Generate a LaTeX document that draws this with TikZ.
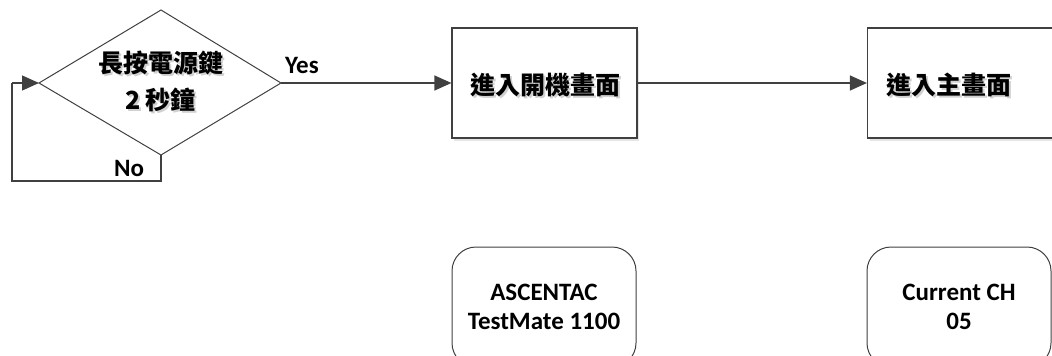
\documentclass[tikz,border=0pt]{standalone}
\usepackage{fontspec}
\setmainfont{Carlito}
\newfontfamily\cjk{Noto Sans CJK TC}
\usetikzlibrary{arrows.meta,shapes.geometric,shadows}
\definecolor{linec}{HTML}{404040}
\tikzset{
  conn/.style={draw=linec,line width=1.3pt,-{Triangle[length=17pt,width=15pt]}},
  plainline/.style={draw=linec,line width=1.3pt},
  boxstyle/.style={draw=linec,line width=1.2pt,fill=white,minimum width=185pt,minimum height=110pt,inner sep=0pt,
     drop shadow={shadow xshift=2pt,shadow yshift=-3pt,fill=black!10,opacity=1}},
  roundstyle/.style={draw=linec,line width=1pt,rounded corners=24pt,fill=white,minimum width=184pt,minimum height=120pt,inner sep=0pt},
  lab/.style={font=\bfseries\fontsize{25}{29}\selectfont,text=black},
  cjklab/.style={font=\cjk\bfseries\fontsize{25}{37}\selectfont,text=black,align=center},
  cjkshadow/.style={font=\cjk\bfseries\fontsize{25}{37}\selectfont,text=black!18,align=center},
}
\begin{document}
\begin{tikzpicture}[x=1pt,y=-1pt]
\useasboundingbox (0,0) rectangle (1052,356);
\clip (0,0) rectangle (1052,356);
% diamond
\coordinate (dl) at (39,83);
\coordinate (dt) at (161,10);
\coordinate (dr) at (281,83);
\coordinate (db) at (161,155);
\draw[draw=linec,line width=1pt,fill=white] (dl) -- (dt) -- (dr) -- (db) -- cycle;
\node[cjkshadow] (dts) at (162.5,83.5) {長按電源鍵\\2 秒鐘};
\node[cjklab] (dtext) at (160.5,81.5) {長按電源鍵\\2 秒鐘};
% boxes
\node[boxstyle] (b1) at (544.5,83) {};
\node[cjkshadow] (b1s) at (547,87) {進入開機畫面};
\node[cjklab] (b1t) at (545,85) {進入開機畫面};
\node[boxstyle] (b2) at (960,83) {};
\node[cjkshadow] (b2s) at (951,87) {進入主畫面};
\node[cjklab] (b2t) at (949,85) {進入主畫面};
% rounded boxes
\node[roundstyle,align=center,lab] (r1) at (544,307) {ASCENTAC\\TestMate 1100};
\node[roundstyle,align=center,lab] (r2) at (959,307) {Current CH\\05};
% connectors
\draw[conn] (dr) -- (b1.west);
\draw[conn] (b1.east) -- (b2.west);
\coordinate (lb) at (161,181);
\coordinate (ll) at (12,181);
\coordinate (lt) at (12,83);
\draw[plainline] (db) -- (lb) -- (ll) -- (lt);
\draw[conn] (lt) -- (dl);
% labels
\node[lab] (yes) at (302,65) {Yes};
\node[lab] (no) at (129,168) {No};
\end{tikzpicture}
\end{document}
